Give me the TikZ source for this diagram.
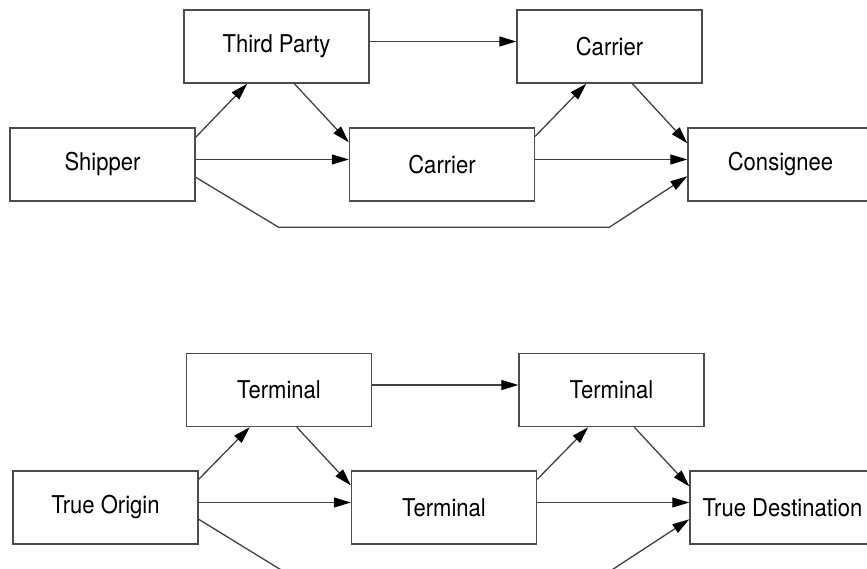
\documentclass[tikz,border=0pt]{standalone}
\usepackage{fontspec}
\setmainfont{TeX Gyre Heros}
\usepackage{graphicx}
\usetikzlibrary{arrows.meta,calc}
\newcommand{\lbl}[1]{\scalebox{0.9}[1]{#1}}
\tikzset{
  box/.style={draw=black!70, line width=1.4pt, rectangle, minimum width=185pt, minimum height=73pt, inner sep=0pt, text=black, font=\fontsize{24.5}{28}\selectfont},
  conn/.style={draw=black!75, line width=1.3pt, -{Triangle[length=17pt,width=10pt,fill=black,color=black]}},
}
\begin{document}
\begin{tikzpicture}[x=1pt,y=-1pt]
\useasboundingbox (0,0) rectangle (867,569);
\clip (0,0) rectangle (867,569);
% top diagram
\node[box] (tp)   at (276.5,46.5)  {\lbl{Third Party}};
\node[box] (ship) at (102.5,164.5) {\lbl{Shipper}};
\node[box] (cmid) at (442,164.5)   {\lbl{Carrier}};
\node[box] (ctop) at (609.5,46.5)  {\lbl{Carrier}};
\node[box] (cons) at (780.5,164.5) {\lbl{Consignee}};
\draw[conn] ($(ship.north east)+(0,10)$) -- ($(tp.south west)+(64,0)$);
\draw[conn] ($(tp.south west)+(111,0)$) -- ($(cmid.north west)+(0,15)$);
\draw[conn] ($(ship.east)+(0,-5)$) -- ($(cmid.west)+(0,-5)$);
\draw[conn] ($(tp.east)+(0,-5)$) -- ($(ctop.west)+(0,-5)$);
\draw[conn] ($(cmid.north east)+(0,9)$) -- ($(ctop.south west)+(70,0)$);
\draw[conn] ($(ctop.south west)+(116,0)$) -- ($(cons.north west)+(0,16)$);
\draw[conn] ($(cmid.east)+(0,-5)$) -- ($(cons.west)+(0,-5)$);
\coordinate (sa) at ($(ship.north east)+(83,100)$);
\coordinate (sb) at ($(cons.north west)+(-78,100)$);
\draw[conn] ($(ship.north east)+(0,50)$) -- (sa) -- (sb) -- ($(cons.north west)+(0,49)$);
% bottom diagram
\node[box] (tl)   at (279,390)     {\lbl{Terminal}};
\node[box] (orig) at (105.5,507.5) {\lbl{True Origin}};
\node[box] (tmid) at (444,507.5)   {\lbl{Terminal}};
\node[box] (tr)   at (611.5,390)   {\lbl{Terminal}};
\node[box] (dest) at (782.5,507.5) {\lbl{True Destination}};
\draw[conn] ($(orig.north east)+(0,9)$) -- ($(tl.south west)+(64,0)$);
\draw[conn] ($(tl.south west)+(111,0)$) -- ($(tmid.north west)+(0,15)$);
\draw[conn] ($(orig.east)+(0,-5)$) -- ($(tmid.west)+(0,-5)$);
\draw[conn] ($(tl.east)+(0,-5)$) -- ($(tr.west)+(0,-5)$);
\draw[conn] ($(tmid.north east)+(0,9)$) -- ($(tr.south west)+(70,0)$);
\draw[conn] ($(tr.south west)+(116,0)$) -- ($(dest.north west)+(0,16)$);
\draw[conn] ($(tmid.east)+(0,-5)$) -- ($(dest.west)+(0,-5)$);
\coordinate (oa) at ($(orig.north east)+(83,100)$);
\coordinate (ob) at ($(dest.north west)+(-78,100)$);
\draw[conn] ($(orig.north east)+(0,49)$) -- (oa) -- (ob) -- ($(dest.north west)+(0,49)$);
\end{tikzpicture}
\end{document}
